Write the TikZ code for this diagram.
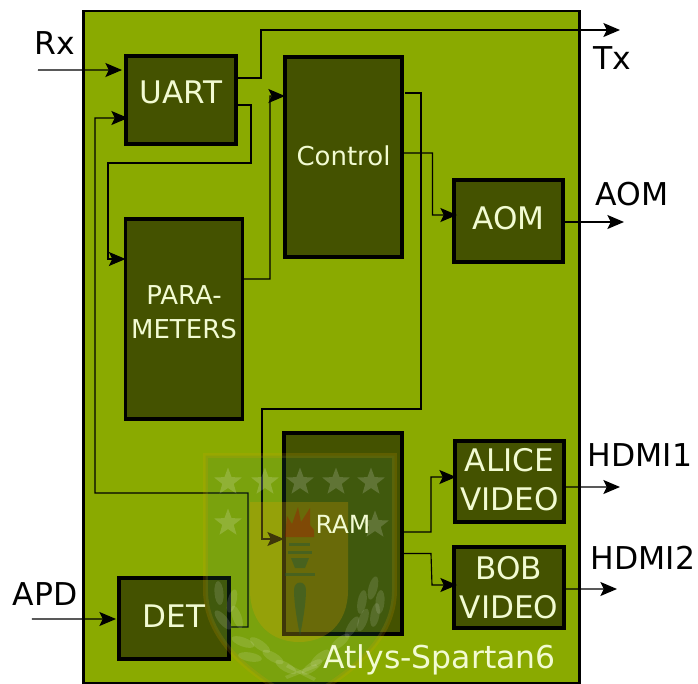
\documentclass[tikz,border=0pt]{standalone}
\usepackage{fontspec}
\setmainfont{DejaVu Sans}
\usepackage{xcolor}
\definecolor{boardgreen}{HTML}{8AAA00}
\definecolor{blockgreen}{HTML}{445200}
\definecolor{blocktext}{HTML}{F2FBD2}
\definecolor{crestgold}{HTML}{E6A000}
\definecolor{crestband}{HTML}{2F7F50}
\usetikzlibrary{arrows.meta,shapes.geometric}
\tikzset{
  board/.style  ={rectangle, draw=black, fill=boardgreen, line width=1.6pt, outer sep=0pt,
                  minimum width=9.92cm, minimum height=13.44cm},
  fblock/.style ={rectangle, draw=black, fill=blockgreen, line width=1.85pt, outer sep=0pt,
                  align=center, inner sep=0pt, text=blocktext,
                  font=\fontsize{17.7}{22}\selectfont},
  sblock/.style ={fblock, font=\fontsize{14.8}{19.2}\selectfont},
  blocklbl/.style={text=blocktext, inner sep=0pt},
  ioname/.style ={text=black, inner sep=0pt, font=\fontsize{17.9}{22}\selectfont},
  arr/.style    ={-{Stealth[length=9.5pt,width=8pt,inset=2pt]}, line width=.65pt, draw=black},
  crestrim/.style ={draw=crestgold, fill=crestband, draw opacity=.16, fill opacity=.17, line width=2.8pt},
  crestfield/.style={fill=crestgold, fill opacity=.25},
  creststar/.style={star, star points=5, star point ratio=2.4, fill=white, fill opacity=.17,
                    minimum size=.58cm, inner sep=0pt},
  crestleaf/.style={fill=white, fill opacity=.12},
  crestdark/.style={fill=crestband!70!black, fill opacity=.45},
}
\begin{document}
\begin{tikzpicture}[x=.02cm,y=-.02cm]
  \useasboundingbox (0,0) rectangle (698,684);
  \fill[white] (0,0) rectangle (698,684);
  \node[board] (fpga) at (331.5,347) {};

  \node[fblock, minimum width=2.2cm, minimum height=1.76cm, text depth=9pt] (uart) at (181,100) {UART};
  \node[sblock, minimum width=2.34cm, minimum height=4cm, text depth=8pt] (params) at (184,319) {PARA-\\METERS};
  \node[sblock, minimum width=2.34cm, minimum height=4cm, text depth=2pt] (control) at (343.5,157) {Control};
  \node[fblock, minimum width=2.18cm, minimum height=1.64cm, text depth=3.5pt] (aom) at (508.5,221) {AOM};
  \node[sblock, minimum width=2.36cm, minimum height=4.02cm] (ram) at (343,533.5) {};
  \node[fblock, minimum width=2.2cm, minimum height=1.62cm, text depth=2.5pt] (det) at (174,618.5) {DET};
  \node[fblock, minimum width=2.18cm, minimum height=1.62cm, text depth=2.5pt] (alice) at (509.5,481.5) {ALICE\\VIDEO};
  \node[fblock, minimum width=2.2cm, minimum height=1.62cm] (bob) at (509,587.5) {BOB\\VIDEO};

  \coordinate (rxin) at (38,70);
  \coordinate (txout) at (620,30);
  \coordinate (aomout) at (624,222);
  \coordinate (apdin) at (32,619);
  \coordinate (hdmia) at (620,487);
  \coordinate (hdmib) at (617,589);

  \draw[arr] (rxin) -- ([xshift=-.08cm,yshift=.6cm]uart.west);
  \draw[arr] ([yshift=.44cm]uart.east) -- ++(25,0) |- (txout);
  \draw[arr] ([yshift=-.1cm]uart.east) -- ++(15,0) |- (108,163) |- (params.west |- 108,259);
  \draw[arr] ([yshift=.8cm]params.east) -- (270,279) |- ([yshift=1.22cm]control.west);
  \draw[arr] ([xshift=.06cm,yshift=1.28cm]control.east) -| (421,409) -| (262,539) -- (ram.west |- 262,539);
  \draw[arr] ([yshift=.08cm]control.east) -| (432.5,215) -- ([xshift=.06cm,yshift=.12cm]aom.west);
  \draw[arr] ([yshift=-.02cm]aom.east) -- (aomout);
  \draw[arr] ([yshift=-.17cm]det.east) -- (248,627) |- (95,493) |- ([xshift=.04cm,yshift=-.36cm]uart.west);
  \draw[arr] (apdin) -- ([xshift=-.06cm,yshift=-.01cm]det.west);
  \draw[arr] ([yshift=.03cm]ram.east) -- (431,532) |- ([xshift=.02cm,yshift=.09cm]alice.west);
  \draw[arr] ([yshift=-.4cm]ram.east) -- (431,553.5) -- (432,585) -- ([xshift=.06cm,yshift=.05cm]bob.west);
  \draw[arr] ([yshift=-.11cm]alice.east) -- (hdmia);
  \draw[arr] ([yshift=-.03cm]bob.east) -- (hdmib);

  \begin{scope}
    \clip (0,0) rectangle (698,684);
    \path[crestrim] (205.5,455.5) -- (394.5,455.5) -- (394.5,590) .. controls (394.5,645) and (340,680) .. (300,702) .. controls (260,680) and (205.5,645) .. (205.5,590) -- cycle;
    \path[crestfield] (250,502) -- (348,502) -- (348,590) .. controls (348,625) and (325,642) .. (299,642) .. controls (273,642) and (250,625) .. (250,590) -- cycle;
    \foreach \x/\y [count=\i] in {228/482,265/482,300/482,336/482,371/482,228/523,375/525}
      \node[creststar] (star\i) at (\x,\y) {};
    \foreach \x/\y/\a in {219/593/95,232/601/75,223/620/-50,237/617/-70,243/642/-20,260/645/-35,250/657/-10,273/657/-30,286/667/-30,
                          373/588/75,362/602/80,380/602/85,375/615/80,363/620/70,352/627/60,340/642/40,320/658/40,312/667/35}
      \path[crestleaf] (\x,\y) ellipse [x radius=.24cm, y radius=.09cm, rotate=\a];
    \path[crestleaf] (285,676) -- (316,664) -- (318,667) -- (287,679) -- cycle;
    \path[crestleaf] (288,664) -- (316,678) -- (314,681) -- (286,667) -- cycle;
    % torch
    \path[fill=red!70!black, fill opacity=.3] (285,537) -- (287,516) -- (292,524) -- (298,507) -- (301,522) -- (310,508) -- (310,525) -- (314,530) -- (314,537) -- cycle;
    \path[crestdark] (289,542.5) rectangle (310,545.5);
    \path[crestdark] (288,550.5) rectangle (312,553.5);
    \path[crestdark] (291,558) -- (309,558) -- (305,568) -- (295,568) -- cycle;
    \path[crestdark] (285,573) rectangle (315,575.5);
    \path[crestdark] (294,590) .. controls (294,580) and (306,580) .. (306,590) .. controls (306,605) and (302,625) .. (300,636) .. controls (298,625) and (294,605) .. (294,590) -- cycle;
  \end{scope}

  \node[blocklbl, font=\fontsize{14.2}{18}\selectfont] (ramlbl) at (343,524) {RAM};
  \node[blocklbl, font=\fontsize{17.9}{22}\selectfont] (fpgalbl) at (439.5,660) {Atlys-Spartan6};

  \node[ioname] (rxlbl) at (55,43) {Rx};
  \node[ioname] (txlbl) at (612,58) {Tx};
  \node[ioname] (aomlbl) at (632,194) {AOM};
  \node[ioname] (hdmialbl) at (640,455) {HDMI1};
  \node[ioname] (hdmiblbl) at (643,558) {HDMI2};
  \node[ioname] (apdlbl) at (45,594) {APD};
\end{tikzpicture}
\end{document}
